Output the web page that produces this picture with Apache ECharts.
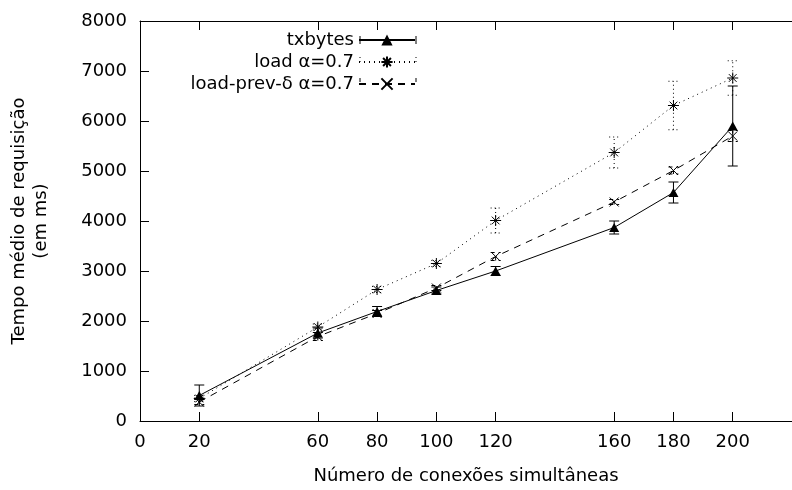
<!DOCTYPE html>
<html>
<head>
<meta charset="utf-8">
<script src="https://cdn.jsdelivr.net/npm/echarts@6/dist/echarts.min.js"></script>
<style>
  html, body { margin: 0; padding: 0; background: #fff; }
  #chart { width: 792px; height: 490px; }
</style>
</head>
<body>
<div id="chart"></div>
<script>
const xs = [20, 60, 80, 100, 120, 160, 180, 200]
const xTickValues = [0, 20, 60, 80, 100, 120, 160, 180, 200]

const txMean = [510, 1760, 2190, 2610, 3000, 3870, 4570, 5900]
const txErr = [210, 100, 100, 70, 90, 130, 210, 800]

const loadMean = [450, 1880, 2630, 3150, 4010, 5370, 6310, 6860]
const loadErr = [60, 60, 60, 60, 250, 310, 485, 345]

const prevMean = [380, 1690, 2150, 2660, 3290, 4380, 5010, 5700]
const prevErr = [50, 80, 60, 50, 80, 50, 70, 110]

const names = ["txbytes", "load α=0.7", "load-prev-δ α=0.7"]

const FONT = "DejaVu Sans"

const pairs = (mean) => xs.map((x, i) => [x, mean[i]])
const bars = (mean, err) => xs.map((x, i) => [x, mean[i] - err[i], mean[i] + err[i]])

const errorSeries = (data, dash) => ({
  type: "custom",
  data,
  z: 3,
  renderItem: (params, api) => {
    const lo = api.coord([api.value(0), api.value(1)])
    const hi = api.coord([api.value(0), api.value(2)])
    const w = 5
    const style = { stroke: "#000", lineWidth: 1, lineDash: dash, fill: null }
    return {
      type: "group",
      children: [
        { type: "line", shape: { x1: lo[0], y1: lo[1], x2: hi[0], y2: hi[1] }, style },
        { type: "line", shape: { x1: lo[0] - w, y1: lo[1], x2: lo[0] + w, y2: lo[1] }, style },
        { type: "line", shape: { x1: hi[0] - w, y1: hi[1], x2: hi[0] + w, y2: hi[1] }, style }
      ]
    }
  }
})

const asterisk = "path://M0,10L20,10M10,0L10,20M3,3L17,17M17,3L3,17"
const cross = "path://M0,0L20,20M20,0L0,20"

// little end caps on the legend samples, like gnuplot's errorbar key
const legendRows = [40, 61, 82]
const legendDash = [null, [1, 3], [4, 4]]
const legendCaps = []
legendRows.forEach((y, i) => {
  ;[360, 416].forEach(x => {
    legendCaps.push({
      type: "line",
      shape: { x1: x, y1: y - 4, x2: x, y2: y + 4 },
      style: { stroke: "#000", lineWidth: 1, lineDash: legendDash[i] }
    })
  })
})

const myChart = echarts.init(document.getElementById("chart"))

myChart.setOption({
  animation: false,
  backgroundColor: "#fff",
  textStyle: { fontFamily: FONT, color: "#000" },
  grid: { left: 136, top: 21, width: 664, height: 407, containLabel: false },
  legend: {
    data: names,
    orient: "vertical",
    align: "right",
    right: 376,
    top: 31,
    padding: 0,
    itemGap: 4,
    itemWidth: 56,
    itemHeight: 14,
    textStyle: { fontFamily: FONT, fontSize: 18, color: "#000" }
  },
  graphic: legendCaps,
  xAxis: [
    {
      type: "value",
      min: 0,
      max: 220,
      interval: 20,
      name: "Número de conexões simultâneas",
      nameLocation: "middle",
      nameGap: 46,
      nameTextStyle: { fontFamily: FONT, fontSize: 18, color: "#000" },
      axisLine: { lineStyle: { color: "#000", width: 1 } },
      axisTick: { inside: true, length: 9, customValues: xTickValues, lineStyle: { color: "#000" } },
      axisLabel: { customValues: xTickValues, margin: 12, fontFamily: FONT, fontSize: 18, color: "#000" },
      splitLine: { show: false }
    },
    {
      type: "value",
      position: "top",
      min: 0,
      max: 220,
      interval: 20,
      axisLine: { lineStyle: { color: "#000", width: 1 } },
      axisTick: { inside: true, length: 9, customValues: xTickValues, lineStyle: { color: "#000" } },
      axisLabel: { show: false },
      splitLine: { show: false }
    }
  ],
  yAxis: {
    type: "value",
    min: 0,
    max: 8000,
    interval: 1000,
    name: "Tempo médio de requisição\n(em ms)",
    nameLocation: "middle",
    nameGap: 88,
    nameTextStyle: { fontFamily: FONT, fontSize: 18, color: "#000", lineHeight: 22 },
    axisLine: { show: true, lineStyle: { color: "#000", width: 1 } },
    axisTick: { show: true, inside: true, length: 9, lineStyle: { color: "#000" } },
    axisLabel: { margin: 13, fontFamily: FONT, fontSize: 18, color: "#000", formatter: v => String(v) },
    splitLine: { show: false }
  },
  series: [
    {
      name: names[0],
      type: "line",
      data: pairs(txMean),
      symbol: "triangle",
      symbolSize: [10, 9],
      lineStyle: { color: "#000", width: 1, type: "solid" },
      itemStyle: { color: "#000" },
      z: 4
    },
    {
      name: names[1],
      type: "line",
      data: pairs(loadMean),
      symbol: asterisk,
      symbolSize: 11,
      lineStyle: { color: "#000", width: 1, type: [1, 4] },
      itemStyle: { color: "#000", borderColor: "#000", borderWidth: 1 },
      z: 4
    },
    {
      name: names[2],
      type: "line",
      data: pairs(prevMean),
      symbol: cross,
      symbolSize: 9,
      lineStyle: { color: "#000", width: 1, type: [7, 6] },
      itemStyle: { color: "#000", borderColor: "#000", borderWidth: 1 },
      z: 4
    },
    errorSeries(bars(txMean, txErr), null),
    errorSeries(bars(loadMean, loadErr), [1, 3]),
    errorSeries(bars(prevMean, prevErr), [4, 4])
  ]
})
</script>
</body>
</html>
